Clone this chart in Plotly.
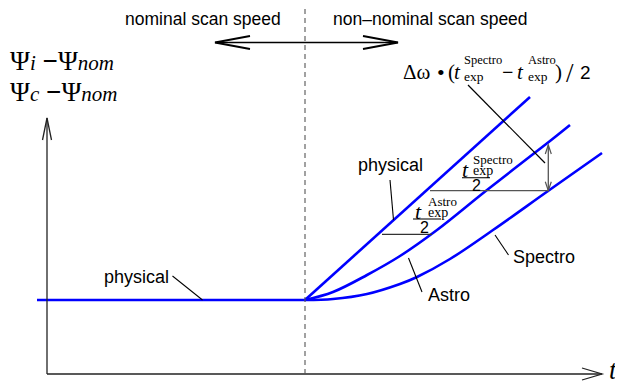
import plotly.graph_objects as go

# ---------------- data (diagram units = pixels) ----------------
flat_t = [37, 305]
flat_psi = [300, 300]
physical_t = [305, 530]
physical_psi = [300, 97]
astro_t = [305, 333, 367, 400, 437, 487, 550, 570]
astro_psi = [300, 292, 275, 256, 230, 190, 141, 125]
spectro_t = [305, 333, 367, 400, 417, 450, 493, 548, 602]
spectro_psi = [300, 299, 294, 284, 277, 259, 230, 191, 153]

# axes / guides
axis_origin = [47, 374]
t_axis_tip = 602
psi_axis_tip = 118
boundary_t = 305
boundary_top = 9

# top labels and double arrow
top_labels = ["nominal scan speed", "non\u2013nominal scan speed"]
top_label_x = [203, 430]
top_label_y = 19
speed_arrow_x = [215, 398]
speed_arrow_y = 42.5

# curve labels with leader lines: (text, x, y, x0, y0, x1, y1)
curve_labels = [
    ("physical", 136, 277, 172.5, 276, 202.5, 300),
    ("physical", 390, 165, 390, 180, 393.5, 220),
    ("Astro", 449, 295, 408.5, 258, 422, 292),
    ("Spectro", 544, 257, 495, 235, 508.5, 255),
]

# exposure-time offsets (horizontal measure lines) and the vertical gap arrow
astro_meas = [382, 432, 234.3]
spectro_meas = [430, 548, 190.7]
gap_arrow = [548.3, 145, 190.7]
delta_leader = [468, 85, 545, 163]

BLUE = "#0000ff"
SANS = "Liberation Sans, Arial, sans-serif"
SERIF = "Liberation Serif, Times New Roman, serif"
GRAY = "#555555"

# the page body adds an 8px margin; compensate so diagram units equal page pixels
PAGE_OFFSET = 8
W, H = 623, 388

fig = go.Figure()

for xs, ys, shape in [(flat_t, flat_psi, "linear"), (physical_t, physical_psi, "linear"),
                      (astro_t, astro_psi, "spline"), (spectro_t, spectro_psi, "spline")]:
    fig.add_trace(go.Scatter(x=xs, y=ys, mode="lines", hoverinfo="skip",
                             line=dict(color=BLUE, width=2.6, shape=shape, smoothing=1.0)))

shapes = []


def line(x0, y0, x1, y1, color="black", width=1.2, dash=None):
    d = dict(type="line", xref="x", yref="y", x0=x0, y0=y0, x1=x1, y1=y1,
             line=dict(color=color, width=width))
    if dash:
        d["line"]["dash"] = dash
    shapes.append(d)


def path(p, color="black", width=1.2):
    shapes.append(dict(type="path", xref="x", yref="y", path=p,
                       line=dict(color=color, width=width)))


# axes
ox, oy = axis_origin
line(ox, oy, t_axis_tip, oy, color="#222222", width=1.3)
path(f"M {t_axis_tip-20},{oy-6} L {t_axis_tip},{oy} L {t_axis_tip-20},{oy+6}", color="#222222", width=1.3)
line(ox, oy, ox, psi_axis_tip, color="#222222", width=1.3)
path(f"M {ox-4.5},{psi_axis_tip+22} L {ox},{psi_axis_tip} L {ox+4.5},{psi_axis_tip+22}", color="#222222", width=1.3)

# boundary
line(boundary_t, boundary_top, boundary_t, oy, color=GRAY, width=1.1, dash="5px,4px")

# speed double arrow
ax0, ax1 = speed_arrow_x
ay = speed_arrow_y
line(ax0, ay, ax1, ay, color="black", width=1.6)
path(f"M {ax0+35},{ay-6.5} L {ax0},{ay} L {ax0+35},{ay+6.5}", width=1.8)
path(f"M {ax1-35},{ay-6.5} L {ax1},{ay} L {ax1-35},{ay+6.5}", width=1.8)

# leaders
for _, _, _, x0, y0, x1, y1 in curve_labels:
    line(x0, y0, x1, y1, color="black", width=1.1)
line(*delta_leader, color="black", width=1.2)

# measure lines
line(astro_meas[0], astro_meas[2], astro_meas[1], astro_meas[2], color="#333333", width=1.3)
line(spectro_meas[0], spectro_meas[2], spectro_meas[1], spectro_meas[2], color=GRAY, width=1.3)
gx, gy0, gy1 = gap_arrow
line(gx, gy0, gx, gy1, color=GRAY, width=1.3)
path(f"M {gx-3},{gy0+9} L {gx},{gy0} L {gx+3},{gy0+9}", color=GRAY, width=1.2)
path(f"M {gx-3},{gy1-9} L {gx},{gy1} L {gx+3},{gy1-9}", color=GRAY, width=1.2)

# fraction bars
line(413, 219, 441, 219, color="#222222", width=1.2)
line(462, 177.7, 490, 177.7, color="#222222", width=1.2)

annotations = []


def text(s, x, y, size, family=SANS, xanchor="center", color="black", xshift=0):
    annotations.append(dict(text=s, x=x, y=y, xref="x", yref="y", showarrow=False,
                            xanchor=xanchor, yanchor="middle", borderpad=0, xshift=xshift,
                            font=dict(size=size, family=family, color=color)))


for s, x in zip(top_labels, top_label_x):
    text(s, x, top_label_y, 17.5)
for s, x, y, *_ in curve_labels:
    text(s, x, y, 18)

# psi labels (anchored inside the axis range, kept inside the page)
text("\u03a8<span style='font-size:21px'><i>i</i></span> <b>\u2212</b>\u03a8<span style='font-size:21px'><i>nom</i></span>",
     10, 61, 27, family=SERIF, xanchor="left", xshift=-1)
text("\u03a8<span style='font-size:21px'><i>c</i></span> <b>\u2212</b>\u03a8<span style='font-size:21px'><i>nom</i></span>",
     10, 92, 27, family=SERIF, xanchor="left", xshift=-1)

# t axis label
text("<i>t</i>", 613, 370, 27, family=SERIF)

# fractions
text("<i>t</i>", 414, 211, 22, family=SERIF, xanchor="left")
text("Astro", 427, 201, 13, family=SERIF, xanchor="left")
text("exp", 427, 212, 14, family=SERIF, xanchor="left")
text("2", 424, 227.5, 16)
text("<i>t</i>", 460.5, 169, 22, family=SERIF, xanchor="left")
text("Spectro", 472, 159, 13, family=SERIF, xanchor="left")
text("exp", 472, 170.5, 14, family=SERIF, xanchor="left")
text("2", 476, 185.5, 16)

# delta omega expression
text("\u0394\u03c9", 402, 71.5, 21, family=SERIF, xanchor="left")
text("\u2022", 436, 72, 22, family=SERIF, xanchor="left")
text("(", 447, 72, 21, family=SERIF, xanchor="left")
text("<i>t</i>", 452.5, 72, 21, family=SERIF, xanchor="left")
text("Spectro", 463, 60, 12.5, family=SERIF, xanchor="left")
text("exp", 463, 76, 13.5, family=SERIF, xanchor="left")
text("<b>\u2212</b>", 501, 72, 20, family=SERIF, xanchor="left")
text("<i>t</i>", 516, 72, 21, family=SERIF, xanchor="left")
text("Astro", 527, 60, 12.5, family=SERIF, xanchor="left")
text("exp", 527, 76, 13.5, family=SERIF, xanchor="left")
text(")", 553.5, 72, 21, family=SERIF, xanchor="left")
text("/", 565, 73, 27, family=SERIF, xanchor="left")
text("2", 579, 72, 19, family=SANS, xanchor="left")

fig.update_layout(
    width=W - PAGE_OFFSET, height=H - PAGE_OFFSET,
    margin=dict(l=0, r=0, t=0, b=0),
    paper_bgcolor="white", plot_bgcolor="white",
    showlegend=False,
    xaxis=dict(range=[PAGE_OFFSET, W], visible=False, fixedrange=True),
    yaxis=dict(range=[H, PAGE_OFFSET], visible=False, fixedrange=True),
    shapes=shapes, annotations=annotations,
)

fig.write_html("out.html", config={"displayModeBar": False})
